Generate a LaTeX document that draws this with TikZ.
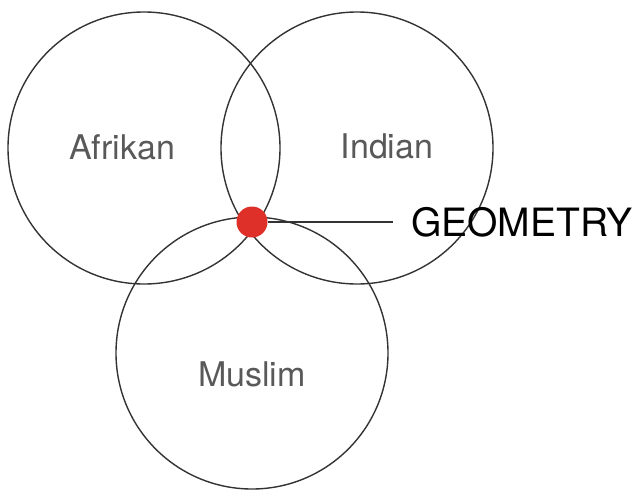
\documentclass[tikz,border=0pt]{standalone}
\usepackage{fontspec}
\setmainfont{TeX Gyre Heros}
\definecolor{dotred}{RGB}{222,48,40}
\begin{document}
\begin{tikzpicture}[x=1pt, y=-1pt,
    ring/.style={circle, draw=black!80, line width=1.4pt, minimum size=272pt, inner sep=0pt},
    culture/.style={text=black!65, font=\fontsize{34}{40}\selectfont}]
    \useasboundingbox (0,0) rectangle (636,495);

    \node[ring] (afrikan) at (144,148) {};
    \node[ring] (indian) at (357,148) {};
    \node[ring] (muslim) at (252,353) {};

    \node[culture] (afrikanlabel) at (122,147) {Afrikan};
    \node[culture] (indianlabel) at (387,146) {Indian};
    \node[culture] (muslimlabel) at (252,374) {Muslim};

    % meeting point of the three circles
    \node[circle, fill=dotred, minimum size=31pt, inner sep=0pt] (dot) at (252,222) {};
    \node[anchor=west, inner xsep=18pt, inner ysep=0pt, font=\fontsize{39}{44}\selectfont] (geometry) at (393,222) {GEOMETRY};
    \draw[black!80, line width=1.4pt] (dot.east) -- (dot.east -| geometry.west);
\end{tikzpicture}
\end{document}
